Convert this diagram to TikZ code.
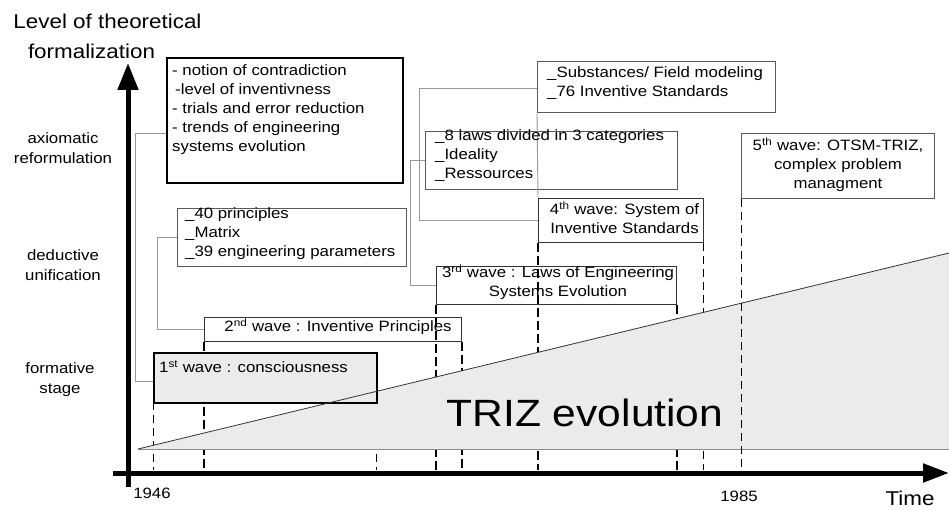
\documentclass[tikz,border=0pt]{standalone}
\usepackage{fontspec}
\setmainfont{Liberation Sans}[FakeStretch=1.12]
\usetikzlibrary{arrows.meta}
\begin{document}
\begin{tikzpicture}[x=1pt,y=-1pt,
  boxthin/.style={draw=black!65, line width=0.9pt, inner sep=0pt, anchor=north west},
  boxthick/.style={draw=black, line width=1.8pt, inner sep=0pt, anchor=north west},
  conn/.style={draw=black!40, line width=0.9pt},
  dthick/.style={draw=black, line width=2.4pt, dash pattern=on 9pt off 4pt},
  dthin/.style={draw=black, line width=1pt, dash pattern=on 8pt off 5pt},
  txt/.style={inner sep=0pt, font=\fontsize{15}{19}\selectfont},
  lbl/.style={inner sep=0pt, align=center, font=\fontsize{15}{20}\selectfont}
]
\useasboundingbox (0,0) rectangle (949,510);
\fill[white] (0,0) rectangle (949,510);

% boxes (empty shapes)
\node[boxthick, minimum width=236pt, minimum height=125pt] (T0) at (166,57) {};
\node[boxthin, minimum width=229pt, minimum height=58pt] (P40) at (177,208) {};
\node[boxthin, draw=black!80, minimum width=257pt, minimum height=24pt, fill=white] (W2) at (204,317) {};
\node[boxthin, draw=black!80, minimum width=240pt, minimum height=38pt, fill=white] (W3) at (436,266) {};
\node[boxthin, draw=black!80, minimum width=165pt, minimum height=44pt, fill=white] (W4) at (538,198) {};
\node[boxthin, minimum width=252pt, minimum height=58pt] (L8) at (425,131) {};
\node[boxthin, minimum width=238pt, minimum height=51pt] (SF) at (537,61) {};
\node[boxthin, minimum width=193pt, minimum height=65pt] (W5) at (741,133) {};

\coordinate (base) at (0,470);

% dashed time markers (under the triangle)
\draw[dthin] (153,402) -- (153,470);
\draw[dthin] (376,402) -- (376,470);
\draw[dthick] (W2.south west) -- (W2.south west |- base);
\draw[dthick] (W2.south east) -- (W2.south east |- base);
\draw[dthick] (W3.south west) -- (W3.south west |- base);
\draw[dthick] (W3.south east) -- (W3.south east |- base);
\draw[dthick] (W4.south west) -- (W4.south west |- base);
\draw[dthin] (W4.south east) -- (W4.south east |- base);

% triangle
\fill[black!8] (138,449) -- (949,449) -- (949,253) -- cycle;
\draw[black!45, line width=0.8pt] (138,449) -- (949,449);

% first wave box
\node[boxthick, minimum width=223pt, minimum height=50pt, fill=black!8] (W1) at (153,352) {};
\draw[black!80, line width=0.8pt] (138,449) -- (949,253);

% 1985 marker over the triangle
\draw[dthin] (W5.south west) -- (W5.south west |- base);

% connectors
\draw[conn] ([yshift=-13.5pt]T0.west) -- ++(-31,0) |- ([yshift=-4pt]W1.west);
\draw[conn] (P40.west) -- ++(-20,0) |- (W2.west);
\draw[conn] (L8.west) -- ++(-15,0) |- (W3.west);
\draw[conn] ([yshift=-1.5pt]SF.west) -- ++(-118,0) |- (W4.west);
\draw[conn] (SF.south west) -- (W4.north west);

% axes
\draw[line width=5pt, -{Triangle[length=27pt,width=20pt]}] (128,487) -- (128,63);
\draw[line width=5pt, -{Triangle[length=26pt,width=18pt]}] (113,473) -- (949,473);

% axis labels
\node[inner sep=0pt, font=\fontsize{20}{24}\selectfont] (t1) at (107.5,21) {Level of theoretical};
\node[inner sep=0pt, font=\fontsize{20}{24}\selectfont] (t2) at (91.5,51) {formalization};
\node[lbl] (ax) at (63,148) {axiomatic\\reformulation};
\node[lbl] (de) at (63,265) {deductive\\unification};
\node[lbl] (fo) at (60,380) {formative\\stage};
\node[txt] (y1) at (152,493) {1946};
\node[txt] (y2) at (739,496) {1985};
\node[inner sep=0pt, font=\fontsize{20}{24}\selectfont] (tm) at (910,498) {Time};
\node[inner sep=0pt, font=\fontsize{38}{44}\selectfont] (tz) at (585,413) {TRIZ evolution};

% box texts
\node[txt, anchor=west, align=left] (T0t) at (172,109.5) {- notion of contradiction\\\hspace{3pt}-level of inventivness\\- trials and error reduction\\- trends of engineering\\systems evolution};
\node[txt, anchor=west, align=left] (P40t) at (185,234) {\_40 principles\\\_Matrix\\\_39 engineering parameters};
\node[txt, anchor=west, align=left] (L8t) at (435,156) {\_8 laws divided in 3 categories\\\_Ideality\\\_Ressources};
\node[txt, anchor=west, align=left] (SFt) at (547,83.5) {\_Substances/ Field modeling\\\_76 Inventive Standards};
\node[txt, anchor=west] (W1t) at (159,367) {1\textsuperscript{st} wave : consciousness};
\node[txt] (W2t) at (338,327) {2\textsuperscript{nd} wave : Inventive Principles};
\node[txt, align=center] (W3t) at (558,282.5) {3\textsuperscript{rd} wave : Laws of Engineering\\Systems Evolution};
\node[txt, align=center] (W4t) at (624.5,217.5) {4\textsuperscript{th} wave: System of\\Inventive Standards};
\node[txt, align=center] (W5t) at (838,165) {5\textsuperscript{th} wave: OTSM-TRIZ,\\complex problem\\managment};
\end{tikzpicture}
\end{document}
